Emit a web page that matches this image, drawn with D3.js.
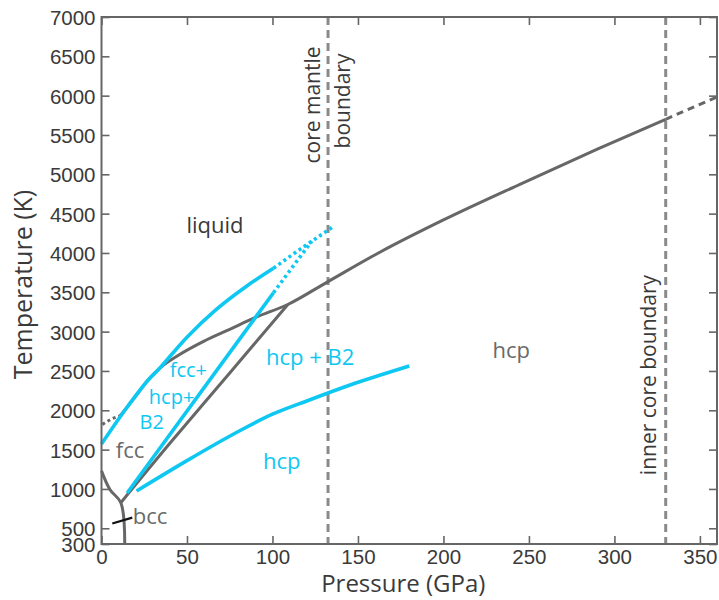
<!DOCTYPE html>
<html>
<head>
<meta charset="utf-8">
<script src="https://cdn.jsdelivr.net/npm/d3@7"></script>
<style>
  html, body { margin: 0; padding: 0; background: #fff; }
  svg { display: block; font-family: "Open Sans", "Noto Sans", sans-serif; }
</style>
</head>
<body>
<svg id="chart" width="719" height="600"></svg>
<script>
// Iron phase diagram: pressure (GPa) vs temperature (K)
const xTicks = [0, 50, 100, 150, 200, 250, 300, 350];
const yTicks = [300, 500, 1000, 1500, 2000, 2500, 3000, 3500, 4000, 4500, 5000, 5500, 6000, 6500, 7000];

// boundaries, [pressure, temperature]
const meltGray = [[11, 1930], [20, 2180], [27.3, 2385], [34, 2534], [45, 2700], [60, 2880], [75, 3030],
                  [90, 3180], [109, 3345], [132, 3630], [162, 4000], [200, 4420], [246, 4886], [290, 5320], [330, 5700]];
const meltGrayExtrap = [[330, 5700], [360, 5983]];
const meltGrayLow = [[0.5, 1820], [6, 1890], [11, 1930]];
const hcpLiquidGray = [[11.3, 825], [40, 1580], [76, 2500], [109, 3345]];
const fccBccGray = [[0, 1230], [5, 990], [11.3, 825], [13.6, 300]];
const bccPointer = [[6.3, 560], [18, 635]];

const meltCyan = [[0, 1572], [14, 2010], [27.3, 2385], [34, 2534], [50, 2930], [67, 3280], [84, 3565], [100.6, 3805]];
const meltCyanExtrap = [[100.6, 3805], [118, 4075], [136, 4340]];
const b2Cyan = [[15, 949], [100.6, 3495]];
const b2CyanExtrap = [[100.6, 3495], [112, 3830], [123, 4150]];
const hcpB2Cyan = [[20.5, 974], [50, 1360], [80, 1730], [100, 1950], [121.6, 2131], [145, 2319], [180, 2563]];

const boundaries = [
  { name: "core mantle boundary", p: 132.5 },
  { name: "inner core boundary", p: 330 }
];

const svg = d3.select("#chart");
const x = d3.scaleLinear().domain([0, 360]).range([101.5, 717]);
const y = d3.scaleLinear().domain([300, 7000]).range([544, 17]);

const GRAY = "#676767", CYAN = "#0ec8f2", DASH = "#8a8a8a";
const line = d3.line().x(d => x(d[0])).y(d => y(d[1])).curve(d3.curveMonotoneX);
const lineCR = d3.line().x(d => x(d[0])).y(d => y(d[1])).curve(d3.curveCatmullRom);

// boundary dashed verticals
svg.selectAll("line.bnd").data(boundaries).join("line")
  .attr("x1", d => x(d.p)).attr("x2", d => x(d.p))
  .attr("y1", y(7000)).attr("y2", y(300))
  .attr("stroke", DASH).attr("stroke-width", 3).attr("stroke-dasharray", "8,5");

function path(data, color, width, dash, gen) {
  svg.append("path").datum(data).attr("d", (gen || line))
    .attr("fill", "none").attr("stroke", color).attr("stroke-width", width)
    .attr("stroke-dasharray", dash || null).attr("stroke-linecap", "butt");
}

// gray phase boundaries
path(meltGray, GRAY, 3);
path(meltGrayExtrap, GRAY, 3, "7,5");
path(meltGrayLow, GRAY, 3, "3,3");
path(hcpLiquidGray, GRAY, 3, null, lineCR);
path(fccBccGray, GRAY, 3, null, lineCR);
path(bccPointer, "#111", 2.2, null, d3.line().x(d => x(d[0])).y(d => y(d[1])));

// cyan phase boundaries
path(meltCyan, CYAN, 3.6, null, lineCR);
path(meltCyanExtrap, CYAN, 3.6, "3,3.2");
path(b2Cyan, CYAN, 3.6);
path(b2CyanExtrap, CYAN, 3.6, "3,3.2");
path(hcpB2Cyan, CYAN, 3.6, null, lineCR);

// frame with inward ticks on all four sides
const AX = "#666";
svg.append("rect").attr("x", x(0)).attr("y", y(7000))
  .attr("width", x(360) - x(0)).attr("height", y(300) - y(7000))
  .attr("fill", "none").attr("stroke", AX).attr("stroke-width", 2);

const axB = svg.append("g").attr("transform", `translate(0,${y(300)})`)
  .call(d3.axisBottom(x).tickValues(xTicks).tickSizeInner(-8).tickSizeOuter(0).tickPadding(5).tickFormat(d3.format("d")));
const axT = svg.append("g").attr("transform", `translate(0,${y(7000)})`)
  .call(d3.axisTop(x).tickValues(xTicks).tickSizeInner(-8).tickSizeOuter(0).tickFormat(""));
const axL = svg.append("g").attr("transform", `translate(${x(0)},0)`)
  .call(d3.axisLeft(y).tickValues(yTicks).tickSizeInner(-8).tickSizeOuter(0).tickPadding(6).tickFormat(d3.format("d")));
const axR = svg.append("g").attr("transform", `translate(${x(360)},0)`)
  .call(d3.axisRight(y).tickValues(yTicks).tickSizeInner(-8).tickSizeOuter(0).tickFormat(""));
[axB, axT, axL, axR].forEach(g => {
  g.select(".domain").remove();
  g.selectAll(".tick line").attr("stroke", AX).attr("stroke-width", 1.6);
  g.selectAll(".tick text").attr("fill", "#3a3a3a").style("font-size", "20.5px");
});
axB.selectAll(".tick text").attr("dy", "0.71em");
axL.selectAll(".tick text").attr("dy", "0.36em");

// axis titles
svg.append("text").attr("x", (x(0) + x(360)) / 2 - 6).attr("y", 592)
  .attr("text-anchor", "middle").attr("fill", "#3a3a3a").style("font-size", "24px").text("Pressure (GPa)");
svg.append("text").attr("transform", `translate(32,${(y(300) + y(7000)) / 2 + 4}) rotate(-90)`)
  .attr("text-anchor", "middle").attr("fill", "#3a3a3a").style("font-size", "25px").text("Temperature (K)");

// region labels
const labels = [
  { t: "liquid", p: 66.4, T: 4356, c: "#3a3a3a", s: 22 },
  { t: "hcp", p: 239.7, T: 2767, c: "#6a6a6a", s: 22 },
  { t: "hcp + B2", p: 122, T: 2678, c: CYAN, s: 22 },
  { t: "fcc+", p: 50.8, T: 2512, c: CYAN, s: 20 },
  { t: "hcp+", p: 41, T: 2173, c: CYAN, s: 20 },
  { t: "B2", p: 29.4, T: 1845, c: CYAN, s: 20 },
  { t: "hcp", p: 105.4, T: 1347, c: CYAN, s: 22 },
  { t: "fcc", p: 16.7, T: 1495, c: "#6a6a6a", s: 22 },
  { t: "bcc", p: 28.4, T: 647, c: "#6a6a6a", s: 22 }
];
svg.selectAll("text.lab").data(labels).join("text").attr("class", "lab")
  .attr("x", d => x(d.p)).attr("y", d => y(d.T)).attr("dy", "0.35em")
  .attr("text-anchor", "middle").attr("fill", d => d.c).style("font-size", d => d.s + "px").text(d => d.t);

// boundary labels, rotated
const vLabel = (txt, px, cy) => svg.append("text")
  .attr("transform", `translate(${px},${cy}) rotate(-90)`).attr("text-anchor", "middle")
  .attr("dy", "0.35em").attr("fill", "#3a3a3a").style("font-size", "21px").text(txt);
vLabel("core mantle", x(132.5) - 15, 105);
vLabel("boundary", x(132.5) + 15, 101);
vLabel("inner core boundary", x(330) - 17, 375);
</script>
</body>
</html>
